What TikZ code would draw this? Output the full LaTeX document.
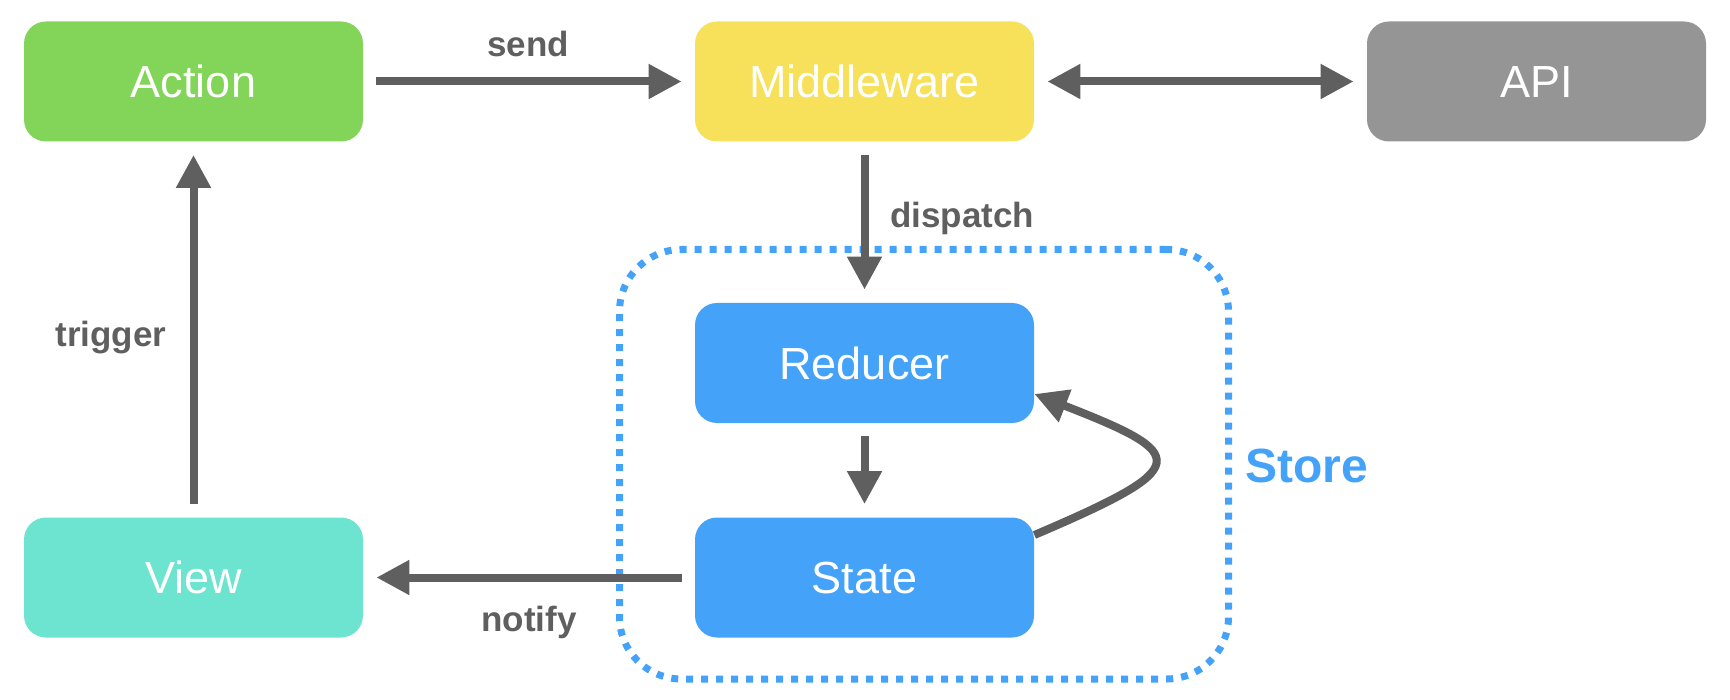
\documentclass[tikz,border=0pt]{standalone}
\usepackage{fontspec}
\setmainfont{Liberation Sans}
\usetikzlibrary{arrows.meta}
\definecolor{actiongreen}{HTML}{83D55A}
\definecolor{middlewareyellow}{HTML}{F7E05A}
\definecolor{apigray}{HTML}{959595}
\definecolor{storeblue}{HTML}{44A2F8}
\definecolor{viewteal}{HTML}{6CE4D0}
\definecolor{linkgray}{HTML}{5F5F5F}
\begin{document}
\begin{tikzpicture}
[x=0.5pt, y=-0.5pt,
 box/.style={rounded corners=11pt, minimum width=169.5pt, minimum height=60pt, inner sep=0pt, text=white, font=\fontsize{22.5}{27}\selectfont, text height=16.1pt, text depth=0pt},
 storebox/.style={draw=storeblue, line width=3.5pt, dash pattern=on 3.5pt off 4pt, rounded corners=31pt, minimum width=304.5pt, minimum height=214.75pt, inner sep=0pt},
 tip/.tip={Triangle[length=16.5pt, width=16.5pt]},
 link/.style={draw=linkgray, line width=4pt, -tip, shorten <=6.5pt, shorten >=6.5pt},
 tag/.style={text=linkgray, font=\fontsize{17.5}{21}\bfseries\selectfont, anchor=base}]
\useasboundingbox (0,0) rectangle (1730,700);
% the store
\node [storebox] (store) at (924,464.25) {};
\node [tag, text=storeblue, font=\fontsize{24}{29}\bfseries\selectfont] (storetag) at (1307,482) {Store};
% boxes
\node [box, fill=actiongreen] (action) at (193.5,81.5) {Action};
\node [box, fill=middlewareyellow] (middleware) at (864.5,81.5) {Middleware};
\node [box, fill=apigray] (api) at (1536.5,81.5) {API};
\node [box, fill=storeblue] (reducer) at (864.5,363) {Reducer};
\node [box, fill=storeblue] (state) at (864.5,577.5) {State};
\node [box, fill=viewteal] (view) at (193.5,577.5) {View};
% links
\draw [link] (action) -- (middleware);
\draw [link, tip-tip] (middleware) -- (api);
\draw [link] (middleware) -- (reducer);
\draw [link] (reducer) -- (state);
\draw [link] (state) -- (view);
\draw [link] (view) -- (action);
\draw [link, shorten <=0pt, shorten >=0pt] ([yshift=21.25pt]state.east) .. controls +(79.5pt,34pt) and +(78.5pt,-30.5pt) .. ([yshift=-15.5pt]reducer.east);
% labels
\node [tag] (sendtag) at (528,57) {send};
\node [tag] (dispatchtag) at (962,228) {dispatch};
\node [tag] (triggertag) at (111,347) {trigger};
\node [tag] (notifytag) at (529,631) {notify};
\end{tikzpicture}
\end{document}
